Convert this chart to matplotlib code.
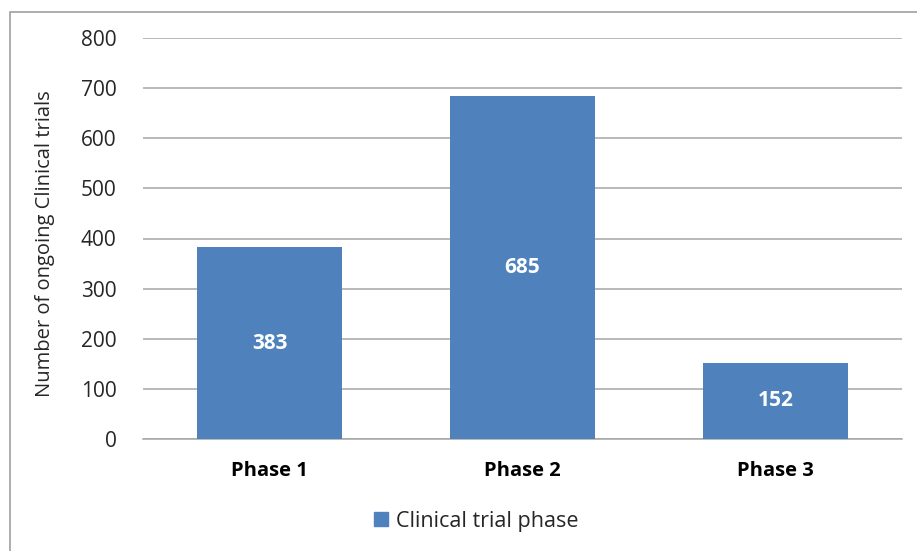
import matplotlib
matplotlib.use("Agg")
import matplotlib.pyplot as plt
from matplotlib.patches import Rectangle, Patch

phases = ["Phase 1", "Phase 2", "Phase 3"]
trials = [383, 685, 152]
yticks = [0, 100, 200, 300, 400, 500, 600, 700, 800]
series_name = "Clinical trial phase"

BAR = "#4F81BD"
GRID = "#A6A6A6"
TXT = "#262626"

plt.rcParams["font.family"] = ["Open Sans", "DejaVu Sans"]

fig = plt.figure(figsize=(9.17, 5.51), dpi=100)
W, H = 917, 551

# outer chart frame
fig.patches.append(Rectangle((10 / W, -0.1), 1.2, (1 - 12 / H) + 0.1,
                             transform=fig.transFigure, fill=False,
                             edgecolor="#A0A0A0", linewidth=1.2))

ax = fig.add_axes([143 / W, 1 - 439 / H, (902 - 143) / W, (439 - 38) / H])
x = range(len(phases))
bars = ax.bar(x, trials, width=0.57, color=BAR, zorder=3)
ax.set_xlim(-0.5, len(phases) - 0.5)
ax.set_ylim(0, 800)
ax.set_yticks(yticks)
ax.set_yticklabels([str(v) for v in yticks], fontsize=15, color=TXT)
ax.set_xticks(list(x))
ax.set_xticklabels(phases, fontsize=14.5, fontweight="bold", color="black")
ax.tick_params(axis="both", length=0)
ax.tick_params(axis="y", pad=19)
ax.tick_params(axis="x", pad=16)
ax.grid(axis="y", color=GRID, linewidth=1.1, zorder=0)
for s in ["top", "right", "left"]:
    ax.spines[s].set_visible(False)
ax.spines["bottom"].set_color(GRID)
ax.spines["bottom"].set_linewidth(1.1)

for b, v in zip(bars, trials):
    ax.text(b.get_x() + b.get_width() / 2, v / 2, str(v), ha="center",
            va="center", color="white", fontsize=15, fontweight="bold", zorder=4)

fig.text(45 / W, 1 - 244 / H, "Number of ongoing Clinical trials", rotation=90,
         ha="center", va="center", fontsize=14.5, color=TXT)

fig.legend(handles=[Patch(color=BAR, label=series_name)],
           loc="center", bbox_to_anchor=(476 / W, 1 - 521 / H), frameon=False,
           fontsize=15.5, handlelength=0.65, handleheight=0.65, handletextpad=0.35,
           labelcolor=TXT)

fig.savefig("out.png", dpi=100, facecolor="white")
